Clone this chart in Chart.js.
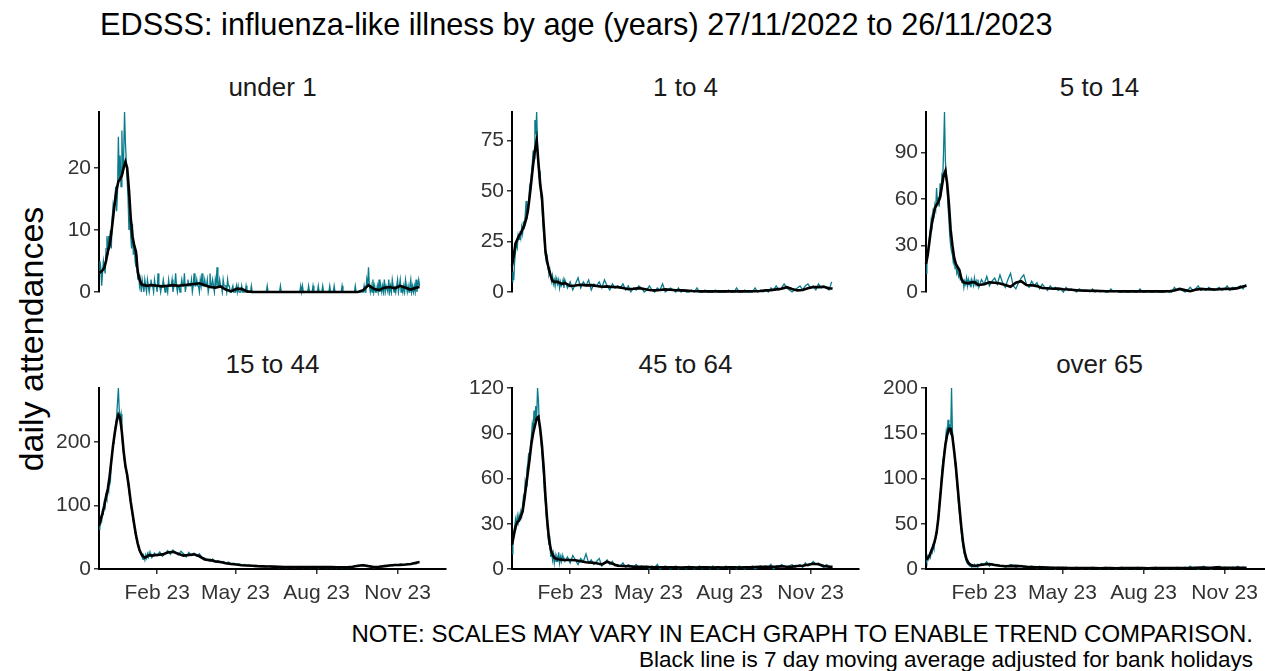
<!DOCTYPE html>
<html>
<head>
<meta charset="utf-8">
<title>EDSSS influenza-like illness by age</title>
<script src="https://cdn.jsdelivr.net/npm/chart.js@4.4.1/dist/chart.umd.min.js"></script>
<style>
  body { margin: 0; width: 1265px; height: 671px; overflow: hidden; background: #fff; position: relative;
         font-family: "Liberation Sans", Arial, sans-serif; color: #000; }
  .txt { position: absolute; white-space: nowrap; }
  canvas { position: absolute; }
  #title { left: 100px; top: 9px; font-size: 30.7px; line-height: 32px; }
  .strip { font-size: 26px; line-height: 28px; text-align: center; color: #1a1a1a; }
  #ylabel { left: 31px; top: 339px; font-size: 34px; line-height: 36px; transform: translate(-50%, -50%) rotate(-90deg); }
  .note { right: 12px; line-height: 26px; text-align: right; }
</style>
</head>
<body>
<div class="txt" id="title">EDSSS: influenza-like illness by age (years) 27/11/2022 to 26/11/2023</div>
<div class="txt" id="ylabel">daily attendances</div>
<div class="txt note" style="top:621px; font-size:24px">NOTE: SCALES MAY VARY IN EACH GRAPH TO ENABLE TREND COMPARISON.</div>
<div class="txt note" style="top:647px; font-size:22.5px">Black line is 7 day moving average adjusted for bank holidays</div>

<script>
// x axis: days since 27/11/2022
const tickDays = [66, 155, 247, 339];
const tickLabels = ['Feb 23', 'May 23', 'Aug 23', 'Nov 23'];

const panelTitles = ['under 1', '1 to 4', '5 to 14', '15 to 44', '45 to 64', 'over 65'];

const yTicksUnder1 = [0, 10, 20];
const yTicks1to4 = [0, 25, 50, 75];
const yTicks5to14 = [0, 30, 60, 90];
const yTicks15to44 = [0, 100, 200];
const yTicks45to64 = [0, 30, 60, 90, 120];
const yTicksOver65 = [0, 50, 100, 150, 200];

// every day of the year (used for the under 1 panel)
const dailyDays = [];
for (let d = 0; d <= 364; d++) dailyDays.push(d);

// other panels: days 0-59 every day, then every 3rd day from day 60
const tealDays = [];
for (let d = 0; d < 60; d++) tealDays.push(d);
for (let d = 60; d <= 363; d += 3) tealDays.push(d);

// moving average: every 2nd day to day 60, then every 6th day, plus the last day
const maDays = [];
for (let d = 0; d <= 60; d += 2) maDays.push(d);
for (let d = 66; d <= 360; d += 6) maDays.push(d);
maDays.push(364);

const tealUnder1 = [
  // days 0-59
  3,5,4,1,3,5,4,3,7,9, 6,9,8,10,7,12,14,13,15,17, 13,16,25,18,22,17,26,19,22,29,
  24,21,18,15,10,12,9,7,11,6, 8,5,4,6,2,3,1,2,0,2, 1,0,2,1,0,2,1,0,1,2,
  // days 60-149
  1,1,0,2,1,1,0,3,1,1, 0,1,1,2,1,0,1,1,0,2, 1,1,1,2,0,1,1,3,1,0,
  1,1,0,1,2,1,1,3,0,1, 1,2,1,1,1,2,0,1,3,1, 1,2,1,1,0,2,1,3,1,1,
  2,1,1,2,0,1,3,1,1,2, 1,0,2,1,4,1,1,2,1,1, 0,2,1,1,1,0,2,1,1,0,
  // days 150-299
  0,0,1,0,0,0,1,0,1,0, 0,0,1,0,0,0,0,1,0,0, 0,0,0,1,0,0,0,0,0,0,
  0,0,0,0,0,0,0,0,0,0, 0,1,0,0,0,0,0,0,0,0, 0,0,0,0,0,0,1,0,0,0,
  0,0,0,0,0,0,0,0,0,0, 0,0,0,0,0,0,0,0,0,1, 0,1,0,0,0,0,0,0,1,0,
  0,0,0,1,0,0,0,0,0,1, 0,0,0,0,1,0,0,0,0,0, 0,0,1,0,0,0,0,1,0,0,
  0,0,0,0,0,0,1,0,0,0, 0,0,0,0,0,0,0,0,0,0, 0,1,0,0,0,0,0,0,0,0,
  // days 300-364
  0,1,0,0,2,1,4,1,0,1, 0,2,0,1,0,0,1,0,2,0, 1,0,1,0,2,0,1,1,0,2,
  0,1,0,2,1,0,1,0,1,2, 0,1,2,0,1,0,1,0,2,1, 0,1,0,1,2,0,1,0,1,0,
  2,0,1,2,1
];
const maUnder1 = [
  3.2,3.2,3.5,3.9,5,6.5,7.5,9.5,12,14.5, 16.5,17.8,18.2,18.8,20,21,20,16.5,12,9,
  7.5,6.5,3.2,2,1.3,1.1,1.1,1,1,1.1, 1.1,
  1.0,0.9,1.0,1.1,1.0,1.1,1.2,1.3,1.4,1.1, 0.8,0.7,0.9,0.4,0.1,0.5,0.5,0.1,
  0,0,0,0,0,0,0,0,0,0, 0,0,0,0,0,0,0,0,0,0, 0,
  0.3,1.1,0.5,0.3,0.7,0.8,0.6,1.0,0.7,0.4,0.7, 0.8
];

const teal1to4 = [
  5,10,6,15,20,24,22,28,26,30, 27,32,29,35,31,38,45,36,42,44, 52,50,58,63,70,66,85,78,89,72,
  62,56,60,47,44,35,29,24,18,15, 17,12,9,11,7,5,8,4,6,3, 7,5,4,6,2,5,3,4,6,2,
  6,2,5,1,4,7,2,5,3,6, 1,4,3,5,2,6,3,1,4,2, 3,
  2,4,1,3,0,2,1,3,2,0, 1,3,1,0,2,1,4,0,1,2,
  1,0,2,0,1,0,0,1,0,2, 0,0,1,0,0,0,1,0,0,0, 0,1,0,0,2,0,0,1,0,0, 0,2,0,1,0,
  1,0,2,1,3,1,2,4,2,1, 0,1,2,3,1,3,4,2,3,1, 4,2,3,2,1,5
];
const ma1to4 = [
  13,18,24,26,28,29,31,33,36,40, 47,55,63,70,75,64,53,47,33,20,
  15,11,8,5.5,5,5,5,4.5,4.2,4, 4.5,
  3,3.2,3.6,3.3,3.4,3.0,2.6,2.8,2.5,2.4, 2.0,1.4,1.6,1.9,1.5,1.0,0.8,1.0,1.3,1.1,
  0.9,0.8,0.7,0.5,0.4,0.3,0.3,0.3,0.3,0.4, 0.3,0.3,0.3,0.3,0.4,0.4,0.5,0.8,0.9,1.3,
  1.6,2.4,1.5,0.8,1.0,1.8,2.5,2.4,2.6,1.8, 1.7
];

const teal5to14 = [
  12,22,25,30,36,40,47,43,52,50, 56,53,67,58,60,55,70,62,75,73, 92,116,84,78,68,55,47,36,30,26,
  24,19,22,15,17,12,14,10,12,8, 9,6,8,3,7,5,9,4,8,5, 7,3,8,6,4,9,5,7,4,8,
  3,8,5,10,4,7,9,5,11,6, 3,8,12,4,2,6,9,11,5,3, 7,
  4,6,2,5,3,1,4,2,3,1, 2,0,3,1,2,1,0,2,1,1,
  1,0,2,0,1,0,1,0,0,2, 0,1,0,0,1,0,0,1,0,0, 2,0,0,1,0,0,1,0,0,0, 1,0,0,3,1,
  2,1,0,1,3,1,2,4,1,2, 1,3,2,1,2,3,1,2,4,1, 3,2,3,4,2,5
];
const ma5to14 = [
  18,24,33,42,48,54,56,58,61,68, 75,78,70,57,40,30,22,18,16,14,
  9,6.5,6,5.8,5.5,6,6.3,6.4,6,5, 4.5,
  5,6.2,6,5.5,4.5,3.4,6,7,4.5,4.3, 3.8,2.6,2.4,2.1,2.2,1.8,1.6,1.3,1.0,0.9,
  0.8,0.7,0.6,0.5,0.5,0.5,0.4,0.4,0.5,0.4, 0.4,0.5,0.4,0.4,0.4,0.5,1.0,2.0,1.2,0.5,
  1.5,2.0,1.8,1.7,1.6,1.9,2.1,2.0,2.5,3.5, 4
];

const teal15to44 = [
  62,72,80,75,92,88,104,98,115,110, 128,122,148,140,172,180,198,205,218,228,
  240,262,285,250,236,244,212,195,182,170, 160,154,145,136,125,112,102,94,86,75,
  68,58,52,45,38,33,29,26,22,18, 15,19,14,22,17,24,19,26,20,23,
  18,25,21,27,20,24,29,23,30,26, 22,28,24,19,26,21,25,20,24,18, 17,
  15,12,16,11,13,10,12,9,11,8, 9,7,8,6,7,5,6,5,4,5,
  4,5,3,4,5,3,4,2,4,3, 2,4,3,2,3,4,2,3,3,2, 4,3,2,3,4,2,3,2,3,2, 3,2,3,2,3,
  3,5,4,6,7,5,4,3,2,3, 4,3,5,4,6,5,7,6,8,6, 7,8,7,9,8,12
];
const ma15to44 = [
  68,78,88,100,114,126,145,170,195,215, 232,243,238,215,185,162,148,128,106,88,
  70,53,40,30,24,20,18,19,21,22, 21,
  22,23,26,27,24,21,22,23,20,15, 14,12,11,9,8,7,6,5.5,5,4.5,
  4.2,4,3.8,3.5,3.2,3.1,3,3,3.1,3, 3.2,3.1,3,2.9,2.8,2.7,2.6,3.5,5,6,
  4.5,3.2,3.5,4.5,5.5,6.3,6.5,7,8,10, 11
];

const teal45to64 = [
  10,20,24,28,33,29,35,31,36,33, 38,35,42,48,45,58,55,66,70,77,
  72,82,88,96,92,105,98,108,100,120, 112,96,92,84,78,68,62,50,44,35,
  28,22,16,19,8,12,6,10,4,9, 5,8,6,11,4,8,5,9,6,7,
  5,8,4,9,6,3,7,5,10,4, 6,3,5,7,2,4,6,3,5,2, 3,
  2,4,1,3,2,1,3,1,2,1, 2,0,2,1,3,0,1,2,1,0,
  1,2,0,1,1,0,2,1,0,1, 2,0,1,1,0,2,1,0,1,1, 2,0,1,1,0,2,1,0,1,1, 2,0,1,2,1,
  2,1,3,0,2,1,3,2,1,2, 3,1,2,3,1,4,2,3,5,3, 4,2,1,3,2,1
];
const ma45to64 = [
  16,22,28,31,32,35,38,46,55,64, 73,83,90,95,100,101,93,82,67,48,
  32,20,13,9.5,7.5,7,6.5,6.3,6.2,6, 6,
  6,5.8,5.2,4.5,4.2,3.8,3,4.8,3.5,2.2, 2,1.8,1.6,1.5,1.4,1.3,1.2,1.2,1.1,1.1,
  1.1,1.0,1.1,1.1,1.0,1.1,1.1,1.0,1.1,1.0, 1.1,1.1,1.0,1.1,1.2,1.3,1.4,1.5,1.5,1.6,
  1.8,1.5,1.6,2.0,2.2,2.8,3.5,3.2,2.0,1.5, 1.5
];

const tealOver65 = [
  12,8,14,11,16,13,20,18,25,22, 30,34,42,48,58,70,84,95,108,118,
  125,132,140,152,145,165,150,160,148,200, 152,140,130,118,108,96,85,72,62,52,
  42,32,25,19,15,11,8,6,5,4, 3,4,2,4,3,5,3,4,2,5,
  4,6,5,8,3,6,4,5,3,4, 2,3,5,4,2,3,4,2,3,2, 3,
  2,1,3,2,1,2,1,2,0,2, 1,1,2,0,1,1,2,1,0,1,
  1,0,2,1,1,0,1,2,0,1, 1,0,1,2,1,0,1,1,0,2, 1,0,1,1,0,1,2,0,1,1, 0,1,1,0,2,
  1,0,2,1,3,1,2,0,1,3, 2,1,0,2,1,3,1,2,1,0, 2,1,3,1,2,1
];
const maOver65 = [
  10,12,15,20,25,31,40,56,78,100, 120,137,148,155,155,146,130,112,90,68,
  47,30,18,11,7,5,4,3.5,3.5,3.8, 4.2,
  5,5.5,4.5,3.5,3,3.2,3.5,3,2.5,2.2, 2,1.8,1.6,1.4,1.3,1.2,1.1,1.1,1,1,
  1,1,0.9,1,1,0.9,1,1,1,1, 1,0.9,1,1,1,1,1,1,1,1.1,
  1.3,1.6,1.2,1.4,1.8,1.3,1.2,1.4,1.2,1.3, 1.3
];

const tealSeries = [tealUnder1, teal1to4, teal5to14, teal15to44, teal45to64, tealOver65];
const tealDaySets = [dailyDays, tealDays, tealDays, tealDays, tealDays, tealDays];
const maSeries = [maUnder1, ma1to4, ma5to14, ma15to44, ma45to64, maOver65];
const yTickSets = [yTicksUnder1, yTicks1to4, yTicks5to14, yTicks15to44, yTicks45to64, yTicksOver65];

// layout of the 3x2 grid (plot area of each panel)
const panelLeft = [99, 512, 926];
const rowTop = [112, 388];
const rowHeight = [180, 181];
const panelWidth = 347;
const xMax = 394;

Chart.defaults.font.family = '"Liberation Sans", Arial, sans-serif';
Chart.defaults.font.size = 21;
Chart.defaults.color = '#333333';

function toPoints(days, values) {
  return values.map((v, i) => ({ x: days[i], y: v }));
}

function makePanel(i) {
  const col = i % 3;
  const row = Math.floor(i / 3);
  // padding is larger than half a tick label, so Chart.js keeps it as is
  const yAxisW = 50, padTop = 16, padRight = 12;
  const xAxisH = row === 1 ? 48 : 0;
  const padBottom = row === 1 ? 0 : 16;

  const strip = document.createElement('div');
  strip.className = 'txt strip';
  strip.textContent = panelTitles[i];
  strip.style.left = panelLeft[col] + 'px';
  strip.style.width = panelWidth + 'px';
  strip.style.top = (row === 0 ? 73 : 350) + 'px';
  document.body.appendChild(strip);

  const canvas = document.createElement('canvas');
  canvas.width = yAxisW + panelWidth + padRight;
  canvas.height = padTop + rowHeight[row] + xAxisH + padBottom;
  document.body.appendChild(canvas);

  const yTicks = yTickSets[i];
  const yMax = Math.max(...tealSeries[i]);

  const axisGrid = { drawOnChartArea: false, drawTicks: true, tickLength: 5, color: '#333333', lineWidth: 1.5 };
  const axisBorder = { display: true, color: '#000000', width: 2 };

  const chart = new Chart(canvas, {
    type: 'line',
    data: {
      datasets: [
        {
          data: toPoints(maDays, maSeries[i]),
          borderColor: '#000000',
          borderWidth: 2.6,
          clip: 4
        },
        {
          data: toPoints(tealDaySets[i], tealSeries[i]),
          borderColor: '#0a7b8c',
          borderWidth: 1.3,
          clip: 4
        }
      ]
    },
    options: {
      responsive: false,
      animation: false,
      events: [],
      layout: { padding: { top: padTop, right: padRight, bottom: padBottom, left: 0 } },
      elements: { point: { radius: 0 }, line: { tension: 0 } },
      plugins: { legend: { display: false }, tooltip: { enabled: false } },
      scales: {
        x: {
          type: 'linear',
          min: 0,
          max: xMax,
          display: row === 1,
          afterBuildTicks: (s) => { s.ticks = tickDays.map(v => ({ value: v })); },
          afterFit: (s) => { s.height = xAxisH; },
          grid: axisGrid,
          border: axisBorder,
          ticks: {
            autoSkip: false,
            maxRotation: 0,
            padding: 7,
            callback: (v, idx) => tickLabels[idx]
          }
        },
        y: {
          type: 'linear',
          min: 0,
          max: yMax,
          afterBuildTicks: (s) => { s.ticks = yTicks.map(v => ({ value: v })); },
          afterFit: (s) => { s.width = yAxisW; },
          grid: axisGrid,
          border: axisBorder,
          ticks: { padding: 3 }
        }
      }
    }
  });

  const area = chart.chartArea;
  canvas.style.left = Math.round(panelLeft[col] - area.left) + 'px';
  canvas.style.top = Math.round(rowTop[row] - area.top) + 'px';
}

for (let i = 0; i < 6; i++) makePanel(i);
</script>
</body>
</html>
